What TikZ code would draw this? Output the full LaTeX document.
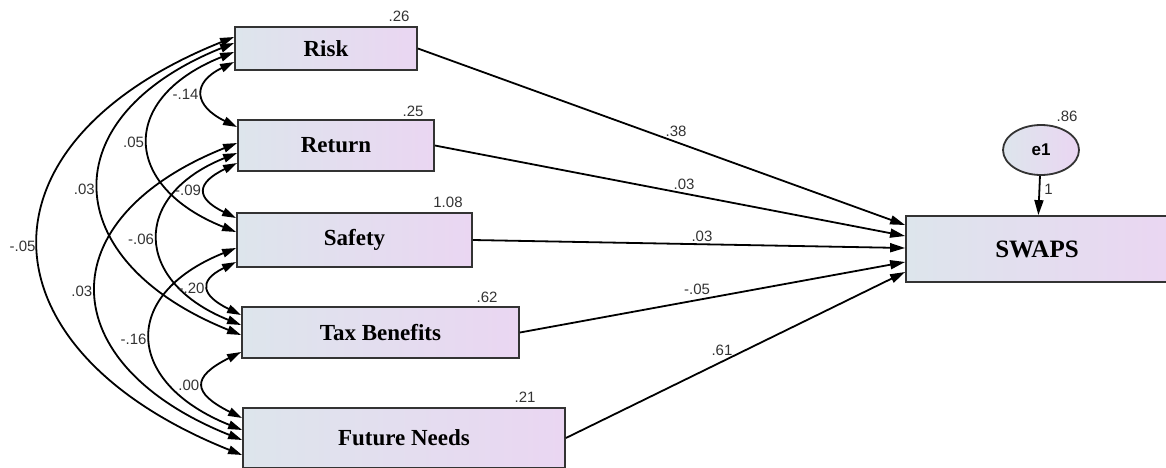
\documentclass[tikz,border=0pt]{standalone}
\usepackage{fontspec}
\setmainfont{Liberation Serif}
\setsansfont{Liberation Sans}
\usetikzlibrary{shapes.geometric,arrows.meta,positioning}
\definecolor{boxleft}{HTML}{DDE5EC}
\definecolor{boxright}{HTML}{EAD6F2}
\definecolor{edge}{HTML}{333333}
\tikzset{obs/.style={rectangle,draw=edge,line width=1.8pt,left color=boxleft,right color=boxright,inner sep=0pt,font=\fontsize{23}{25}\selectfont\bfseries}}
\tikzset{latent/.style={ellipse,draw=edge,line width=1.8pt,left color=boxleft,right color=boxright,minimum width=76pt,minimum height=50pt,inner sep=0pt,font=\sffamily\bfseries\fontsize{17}{18}\selectfont}}
\tikzset{est/.style={inner sep=1pt,text=black!80,font=\sffamily\fontsize{15}{16}\selectfont}}
\tikzset{reg/.style={draw,line width=1.8pt,-{Triangle[length=15pt,width=9pt]}}}
\tikzset{cov/.style={draw,line width=1.8pt,{Triangle[length=14pt,width=8.5pt]}-{Triangle[length=14pt,width=8.5pt]}}}

\begin{document}
\begin{tikzpicture}[x=1pt,y=-1pt]
    \useasboundingbox (0,0) rectangle (1166,467);

    \node[obs,minimum width=182pt,minimum height=43pt] (risk) at (326,48.5) {Risk};
    \node[obs,minimum width=196pt,minimum height=51pt] (return) at (336,145.5) {Return};
    \node[obs,minimum width=235pt,minimum height=54pt] (safety) at (354.5,240) {Safety};
    \node[obs,minimum width=277pt,minimum height=51pt] (tax) at (380.5,332.5) {Tax Benefits};
    \node[obs,minimum width=322pt,minimum height=60pt] (future) at (404,438) {Future Needs};
    \node[obs,minimum width=262pt,minimum height=66pt,font=\fontsize{25}{27}\selectfont\bfseries] (swaps) at (1037,249) {SWAPS};
    \node[latent] (e1) at (1041,150) {e1};

     \node[est] (vrisk) at (399,16) {.26};
     \node[est] (vreturn) at (413,111) {.25};
     \node[est] (vsafety) at (448,202) {1.08};
     \node[est] (vtax) at (487,297) {.62};
     \node[est] (vfuture) at (525,397) {.21};
     \node[est] (ve1) at (1067,116) {.86};

     \coordinate (in1) at ([yshift=24pt]swaps.west);
     \coordinate (in2) at ([yshift=13pt]swaps.west);
     \coordinate (in3) at ([yshift=1pt]swaps.west);
     \coordinate (in4) at ([yshift=-13pt]swaps.west);
     \coordinate (in5) at ([yshift=-23pt]swaps.west);

        \path[reg] (risk.east) -- (in1) node[est,above=4pt,pos=.53] (b1) {.38};
        \path[reg] (return.east) -- (in2) node[est,above=2pt,pos=.53] (b2) {.03};
        \path[reg] (safety.east) -- (in3) node[est,above=1pt,pos=.53] (b3) {.03};
        \path[reg] (tax.east) -- (in4) node[est,above=4pt,pos=.46] (b4) {-.05};
        \path[reg] (future.east) -- (in5) node[est,above=4pt,pos=.46] (b5) {.61};
        \path[reg] (e1) -- (swaps) node[est,right=3pt,pos=.35] (b6) {1};

        \path[cov] ([yshift=-13.5pt]risk.west) .. controls +(-43,21) and +(-43,-21) .. ([yshift=18.5pt]return.west) node[est,left=3pt,pos=.5] (r1) {-.14};
        \path[cov] ([yshift=-3.5pt]risk.west) .. controls +(-115,46) and +(-115,-46) .. ([yshift=8pt]safety.west) node[est,left=3pt,pos=.5] (r2) {.05};
        \path[cov] ([yshift=5.5pt]risk.west) .. controls +(-184,74) and +(-184,-74) .. ([yshift=-2.5pt]tax.west) node[est,left=3pt,pos=.5] (r3) {.03};
        \path[cov] ([yshift=11.5pt]risk.west) .. controls +(-265,106) and +(-265,-106) .. ([yshift=-17pt]future.west) node[est,left=2pt,pos=.5] (r4) {-.05};
        \path[cov] ([yshift=-17.5pt]return.west) .. controls +(-41,20) and +(-41,-20) .. ([yshift=22pt]safety.west) node[est,left=3pt,pos=.5] (r5) {-.09};
        \path[cov] ([yshift=-7.5pt]return.west) .. controls +(-107,43) and +(-107,-43) .. ([yshift=7.5pt]tax.west) node[est,left=3pt,pos=.5] (r6) {-.06};
        \path[cov] ([yshift=2.5pt]return.west) .. controls +(-190,76) and +(-190,-76) .. ([yshift=-2pt]future.west) node[est,left=3pt,pos=.5] (r7) {.03};
        \path[cov] ([yshift=-22pt]safety.west) .. controls +(-39,19) and +(-39,-19) .. ([yshift=17.5pt]tax.west) node[est,left=3pt,pos=.5] (r8) {-.20};
        \path[cov] ([yshift=-8pt]safety.west) .. controls +(-117,47) and +(-117,-47) .. ([yshift=8pt]future.west) node[est,left=3pt,pos=.5] (r9) {-.16};
        \path[cov] ([yshift=-19.5pt]tax.west) .. controls +(-50,25) and +(-50,-25) .. ([yshift=20pt]future.west) node[est,left=3pt,pos=.5] (r10) {.00};
  \end{tikzpicture}
\end{document}
